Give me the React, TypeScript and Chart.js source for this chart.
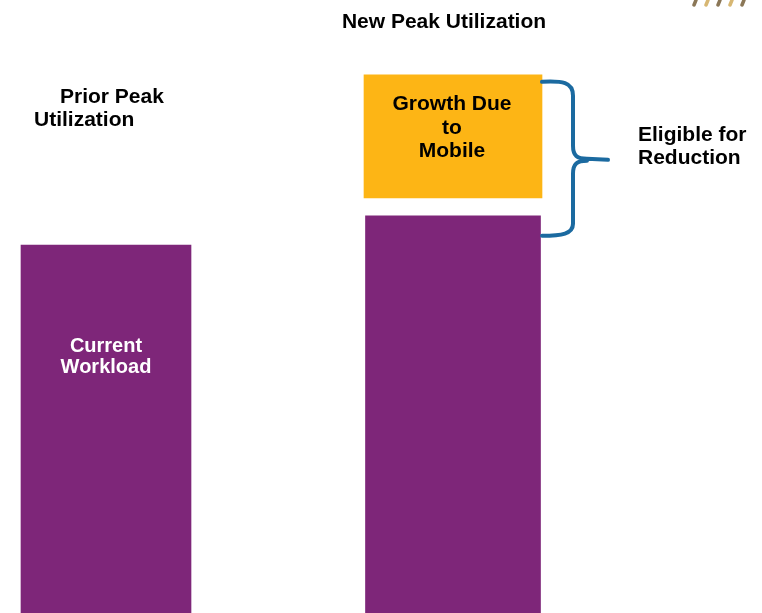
import React, { useEffect, useRef } from "react";
import { Chart, registerables } from "chart.js";

Chart.register(...registerables);

const categories = ["Prior Peak Utilization", "New Peak Utilization"];
const priorWorkload: (number | null)[] = [60, null];
const newWorkload: (number | null)[] = [null, 64.8];
const mobileGrowth: ([number, number] | null)[] = [null, [67.7, 87.8]];

const PURPLE = "#7E2679";
const ORANGE = "#FDB515";
const BLUE = "#1B6AA0";
const FONT = "bold 21px 'Liberation Sans', Arial, sans-serif";
const FONT_IN = "bold 20px 'Liberation Sans', Arial, sans-serif";

const annotations = {
  id: "annotations",
  afterDatasetsDraw(chart: any) {
    const ctx = chart.ctx;
    const b1 = chart.getDatasetMeta(0).data[0] as any;
    const b2 = chart.getDatasetMeta(1).data[1] as any;
    const g = chart.getDatasetMeta(2).data[1] as any;
    if (!b1 || !b2 || !g) return;
    ctx.save();
    ctx.textBaseline = "middle";

    // Current workload
    ctx.font = FONT_IN;
    ctx.fillStyle = "#ffffff";
    ctx.textAlign = "center";
    ctx.fillText("Current", b1.x, b1.y + 101);
    ctx.fillText("Workload", b1.x, b1.y + 122);

    // Prior Peak Utilization
    ctx.font = FONT;
    ctx.fillStyle = "#000000";
    ctx.textAlign = "left";
    ctx.fillText("Prior Peak", b1.x - 46, b1.y - 148);
    ctx.fillText("Utilization", b1.x - 72, b1.y - 125);

    // New Peak Utilization
    ctx.textAlign = "center";
    ctx.fillText("New Peak Utilization", b2.x - 9, 22);

    // Growth due to mobile
    const gTop = Math.min(g.y, g.base);
    ctx.fillText("Growth Due", g.x - 1, gTop + 29);
    ctx.fillText("to", g.x - 1, gTop + 53);
    ctx.fillText("Mobile", g.x - 1, gTop + 76);

    // Bracket
    const right = g.x + g.width / 2;
    const y0 = gTop + 7;
    const y1 = b2.y + 20;
    const mid = (y0 + y1) / 2 + 1;
    const vx = right + 31;
    const tipX = right + 66;
    ctx.strokeStyle = BLUE;
    ctx.lineWidth = 4;
    ctx.lineCap = "round";
    ctx.beginPath();
    ctx.moveTo(right, y0);
    ctx.bezierCurveTo(right + 20, y0 - 1, vx, y0, vx, y0 + 14);
    ctx.lineTo(vx, mid - 14);
    ctx.bezierCurveTo(vx, mid - 4, vx + 4, mid - 1, vx + 14, mid - 1);
    ctx.lineTo(tipX, mid);
    ctx.moveTo(vx + 14, mid + 1);
    ctx.bezierCurveTo(vx + 4, mid + 1, vx, mid + 4, vx, mid + 14);
    ctx.lineTo(vx, y1 - 12);
    ctx.bezierCurveTo(vx, y1 - 2, right + 20, y1, right, y1);
    ctx.stroke();

    // Eligible for reduction
    ctx.fillStyle = "#000000";
    ctx.textAlign = "left";
    ctx.fillText("Eligible for", tipX + 30, mid - 25);
    ctx.fillText("Reduction", tipX + 30, mid - 2);

    // cut-off logo marks at top right
    ctx.lineWidth = 3.5;
    ctx.lineCap = "round";
    const marks = [694, 706, 718, 730, 742];
    marks.forEach((mx, i) => {
      ctx.strokeStyle = i % 2 === 0 ? "rgba(110,85,45,0.8)" : "rgba(205,165,80,0.8)";
      ctx.beginPath();
      ctx.moveTo(mx + 2, 0);
      ctx.lineTo(mx, 5);
      ctx.stroke();
    });
    ctx.restore();
  },
};

export default function App() {
  const ref = useRef<HTMLCanvasElement | null>(null);
  useEffect(() => {
    if (!ref.current) return;
    const chart = new Chart(ref.current, {
      type: "bar",
      data: {
        labels: categories,
        datasets: [
          {
            label: "Current Workload (prior)",
            data: priorWorkload as any,
            backgroundColor: PURPLE,
            barThickness: 170,
            clip: false as any,
          },
          {
            label: "Current Workload (new)",
            data: newWorkload as any,
            backgroundColor: PURPLE,
            barThickness: 175,
            clip: false as any,
          },
          {
            label: "Growth Due to Mobile",
            data: mobileGrowth as any,
            backgroundColor: ORANGE,
            barThickness: 178,
            clip: false as any,
          },
        ],
      },
      options: {
        animation: false,
        responsive: true,
        maintainAspectRatio: false,
        layout: { padding: { left: 106, right: 309, top: 0, bottom: 0 } },
        datasets: { bar: { grouped: false } } as any,
        plugins: {
          legend: { display: false },
          tooltip: { enabled: false },
        },
        scales: {
          x: { type: "category", offset: false, display: false },
          y: { min: 0, max: 100, display: false },
        },
      },
      plugins: [annotations],
    });
    return () => chart.destroy();
  }, []);
  return (
    <div style={{ position: "fixed", left: 0, top: 0, width: 762, height: 613, background: "#ffffff" }}>
      <canvas ref={ref} />
    </div>
  );
}
